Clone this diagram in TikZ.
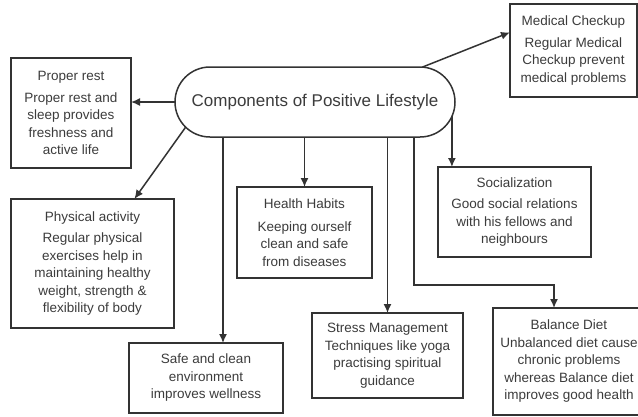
\documentclass[tikz,border=0pt]{standalone}
\usepackage{fontspec}
\setmainfont{Liberation Sans}
\usetikzlibrary{shapes.misc,calc,arrows.meta}
\definecolor{lineclr}{HTML}{333333}
\definecolor{txtclr}{HTML}{3C3C3C}
\tikzset{%
  >={Latex[length=9pt,width=8pt]}, % filled arrow heads
  inner sep=0pt,%
  outer sep=0pt,%
  infobox/.style={draw=lineclr,line width=1.5pt,rectangle,align=center,
    text=txtclr,font=\fontsize{13.5}{17.5}\selectfont},%
  hubbox/.style={draw=lineclr,line width=1.5pt,rounded rectangle,
    minimum width=280pt,minimum height=70pt,text=txtclr,
    font=\fontsize{17}{20}\selectfont},%
  link/.style={->,draw=lineclr,line width=1.5pt}%
}

\begin{document}
\begin{tikzpicture}[x=1pt,y=-1pt]

%% frame

\fill[white] (0,0) rectangle (638,416);
\useasboundingbox (0,0) rectangle (638,416);
\clip (0,0) rectangle (638,416);

%% hub

\node[hubbox] (comp) at (315,102) {Components of Positive Lifestyle};

%% components

\node[infobox,minimum width=120pt,minimum height=110pt] (rest) at (71,113)
  {Proper rest\\[4pt]Proper rest and\\sleep provides\\freshness and\\active life};
\node[infobox,minimum width=163pt,minimum height=129pt] (phys) at (92.5,263.5)
  {Physical activity\\[4pt]Regular physical\\exercises help in\\maintaining healthy\\weight, strength \&\\flexibility of body};
\node[infobox,minimum width=135pt,minimum height=91pt] (habits) at (304.5,232.5)
  {Health Habits\\[5pt]Keeping ourself\\clean and safe\\from diseases};
\node[infobox,minimum width=154pt,minimum height=70pt] (safe) at (206,378)
  {Safe and clean\\environment\\improves wellness};
\node[infobox,minimum width=151pt,minimum height=85pt] (stress) at (387.5,355.5)
  {Stress Management\\Techniques like yoga\\practising spiritual\\guidance};
\node[infobox,minimum width=153pt,minimum height=90pt] (social) at (514.5,212)
  {Socialization\\[4pt]Good social relations\\with his fellows and\\neighbours};
\node[infobox,minimum width=127pt,minimum height=93pt] (checkup) at (573.5,50.5)
  {Medical Checkup\\[4pt]Regular Medical\\Checkup prevent\\medical problems};
\node[infobox,minimum width=152pt,minimum height=107pt] (diet) at (569,361.5)
  {Balance Diet\\Unbalanced diet cause\\chronic problems\\whereas Balance diet\\improves good health};

%% helper points

\coordinate (safetop) at ($(safe.north)+(17,0)$);
\coordinate (diettop) at ($(diet.north)+(-15,0)$);
\coordinate (bend) at (414,285); % corner of the diet connector

%% connectors

\draw[link] (comp.west) -- (comp.west -| rest.east);
\draw[link] (comp.191) -- (phys.57);
\draw[link] (comp.south -| habits.north) -- (habits.north);
\draw[link] (comp.south -| safetop) -- (safetop);
\draw[link] (comp.south -| stress.north) -- (stress.north);
\draw[link] (comp.south -| bend) -- (bend) -- (bend -| diettop) -- (diettop);
\draw[link] (comp.-6) -- (comp.-6 |- social.north);
\draw[link] (comp.18) -- (checkup.164);
\end{tikzpicture}
\end{document}
